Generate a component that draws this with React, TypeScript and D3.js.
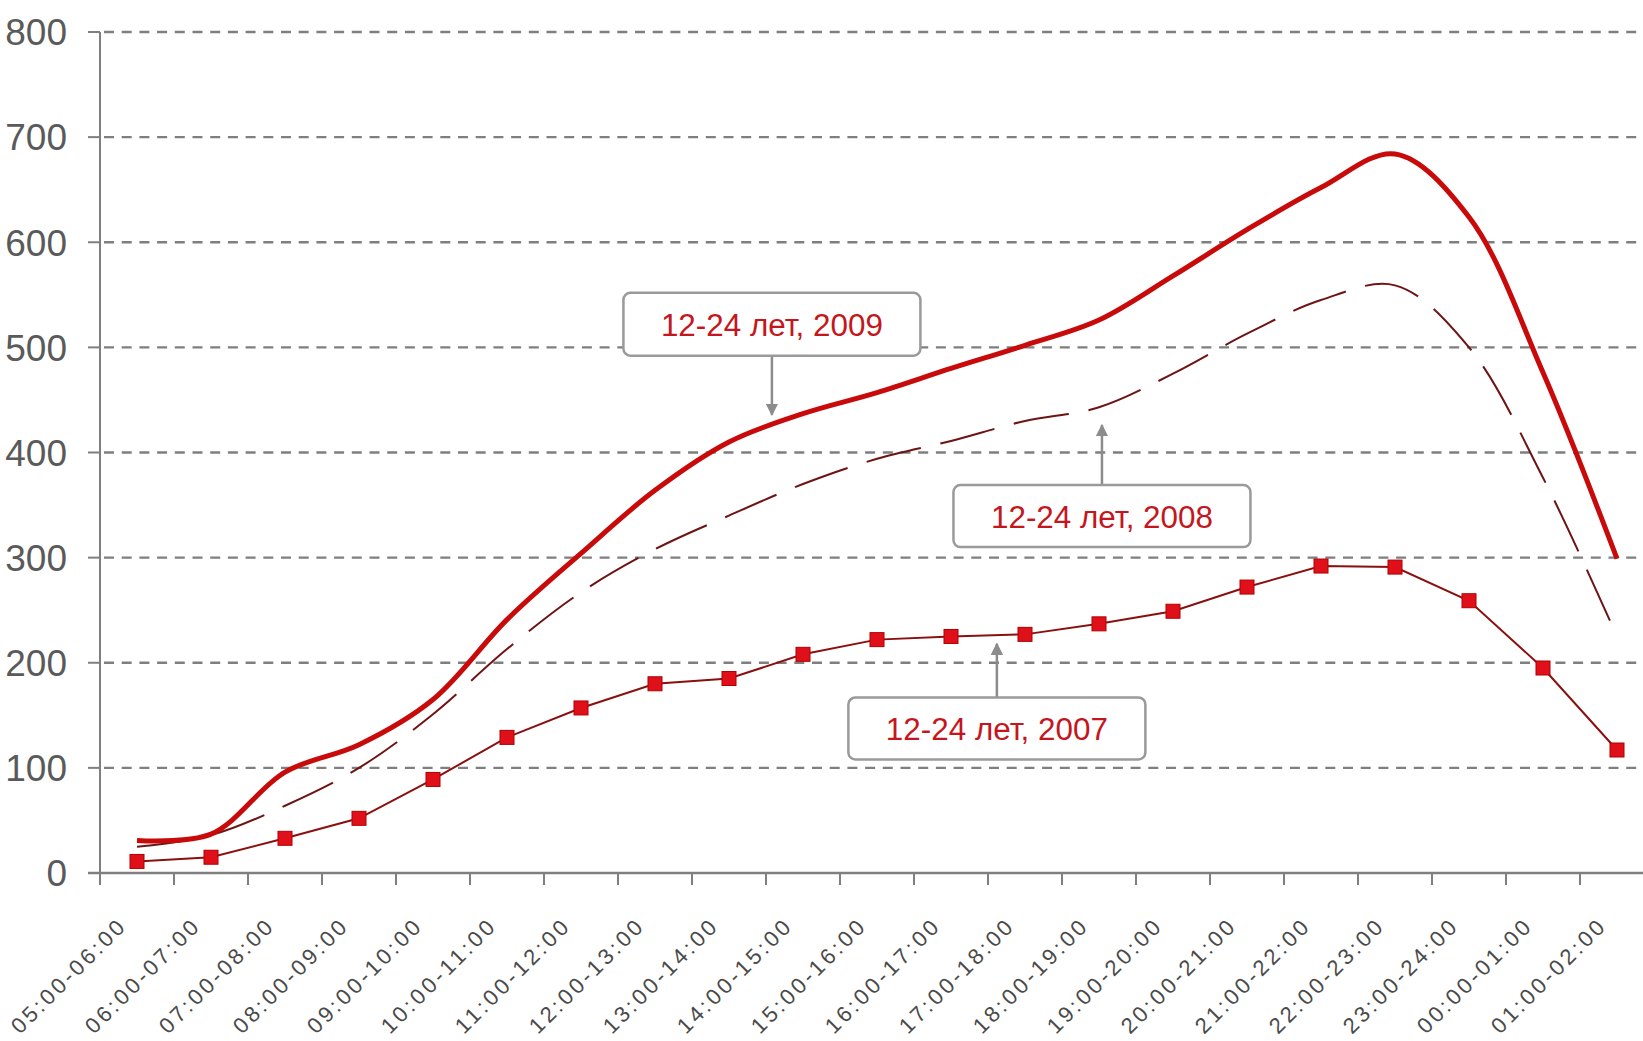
import React from 'react';
import * as d3 from 'd3';

const categories: string[] = [
  '05:00-06:00', '06:00-07:00', '07:00-08:00', '08:00-09:00', '09:00-10:00',
  '10:00-11:00', '11:00-12:00', '12:00-13:00', '13:00-14:00', '14:00-15:00',
  '15:00-16:00', '16:00-17:00', '17:00-18:00', '18:00-19:00', '19:00-20:00',
  '20:00-21:00', '21:00-22:00', '22:00-23:00', '23:00-24:00', '00:00-01:00',
  '01:00-02:00',
];

const values2009: number[] = [31, 37, 96, 122, 165, 241, 304, 364, 410, 437, 457, 480, 502, 526, 568, 612, 652, 684, 624, 476, 299];
const values2008: number[] = [25, 36, 64, 100, 151, 213, 267, 308, 340, 370, 394, 411, 430, 443, 475, 513, 545, 559, 500, 376, 225];
const values2007: number[] = [11, 15, 33, 52, 89, 129, 157, 180, 185, 208, 222, 225, 227, 237, 249, 272, 292, 291, 259, 195, 117];

const yTicks: number[] = [0, 100, 200, 300, 400, 500, 600, 700, 800];

// annotation: pos = position in category units along the x axis, values in data units
const annotationLabels: string[] = ['12-24 лет, 2009', '12-24 лет, 2008', '12-24 лет, 2007'];
const annotationPos: number[] = [9.08, 13.54, 12.12];
const annotationTip: number[] = [434, 428, 220];
const annotationTop: number[] = [552, 369, 167];
const annotationBottom: number[] = [492, 310, 108];

export default function App() {
  const W = 1643;
  const H = 1041;
  const left = 100;
  const step = 74;
  const x = d3.scaleBand<string>().domain(categories).range([left, left + step * categories.length]).padding(0);
  const bw = x.bandwidth();
  const cx = (i: number) => (x(categories[i]) as number) + bw / 2;
  const pos = d3.scaleLinear().domain([0, categories.length]).range(x.range() as [number, number]);
  const y = d3.scaleLinear().domain([0, 800]).range([873, 32]);

  const smooth = d3.line<number>().x((_, i) => cx(i)).y((d) => y(d)).curve(d3.curveCatmullRom.alpha(0.5));
  const straight = d3.line<number>().x((_, i) => cx(i)).y((d) => y(d));

  const font = "'Liberation Sans', Arial, sans-serif";
  const grid = '#7f7f7f';
  const tickBounds = d3.range(categories.length + 1).map((k) => pos(k));

  return (
    <div style={{ position: 'absolute', left: 0, top: 0 }}>
      <svg width={W} height={H} style={{ display: 'block', background: '#fff' }}>
        <defs>
          <marker id="arr" viewBox="0 0 10 10" refX="9" refY="5" markerWidth="5" markerHeight="5" orient="auto-start-reverse" markerUnits="strokeWidth">
            <path d="M0,0 L10,5 L0,10 z" fill="#8c8c8c" />
          </marker>
        </defs>
        {/* grid lines */}
        {yTicks.map((t) => (
          <g key={t}>
            <line x1={88} x2={left} y1={y(t)} y2={y(t)} stroke={grid} strokeWidth={2} />
            {t > 0 && (
              <line x1={left + 4} x2={W} y1={y(t)} y2={y(t)} stroke={grid} strokeWidth={2.4} strokeDasharray="10 7.7" />
            )}
            <text x={67} y={y(t)} dy="0.36em" textAnchor="end" fontFamily={font} fontSize={37} fill="#5a5a5a">
              {t}
            </text>
          </g>
        ))}
        {/* axes */}
        <line x1={left} x2={left} y1={y(800)} y2={y(0)} stroke={grid} strokeWidth={2} />
        <line x1={88} x2={W} y1={y(0)} y2={y(0)} stroke={grid} strokeWidth={2.4} />
        {tickBounds.map((tx, k) => (
          <line key={k} x1={tx} x2={tx} y1={y(0)} y2={y(0) + 12} stroke={grid} strokeWidth={2} />
        ))}
        {categories.map((c, i) => (
          <text
            key={c}
            transform={`translate(${cx(i) - 11},${y(0) + 56}) rotate(-45)`}
            textAnchor="end"
            fontFamily={font}
            fontSize={22}
            fill="#4a4a4a"
            textLength={150}
            lengthAdjust="spacing"
          >
            {c}
          </text>
        ))}
        {/* series */}
        <path d={smooth(values2008) || ''} fill="none" stroke="#6e1414" strokeWidth={2} strokeDasharray="56 20" />
        <path d={straight(values2007) || ''} fill="none" stroke="#8a1010" strokeWidth={2} />
        {values2007.map((v, i) => (
          <rect key={i} x={cx(i) - 7} y={y(v) - 7} width={14} height={14} fill="#e0101a" stroke="#b00000" strokeWidth={1} />
        ))}
        <path d={smooth(values2009) || ''} fill="none" stroke="#c80a0a" strokeWidth={5} strokeLinejoin="round" />
        {/* annotations */}
        {annotationLabels.map((label, k) => {
          const ax = pos(annotationPos[k]);
          const top = y(annotationTop[k]);
          const bottom = y(annotationBottom[k]);
          const tip = y(annotationTip[k]);
          const w = 297;
          const above = tip < top;
          const startY = above ? top : bottom;
          const endY = above ? tip + 2 : tip - 2;
          return (
            <g key={label}>
              <line x1={ax} x2={ax} y1={startY} y2={endY} stroke="#8c8c8c" strokeWidth={2.5} markerEnd="url(#arr)" />
              <rect x={ax - w / 2} y={top} width={w} height={bottom - top} rx={7} ry={7} fill="#fff" stroke="#9a9a9a" strokeWidth={2.5} />
              <text x={ax} y={(top + bottom) / 2 + 12} textAnchor="middle" fontFamily={font} fontSize={31} fill="#c4161c" textLength={222} lengthAdjust="spacingAndGlyphs">
                {label}
              </text>
            </g>
          );
        })}
      </svg>
    </div>
  );
}
